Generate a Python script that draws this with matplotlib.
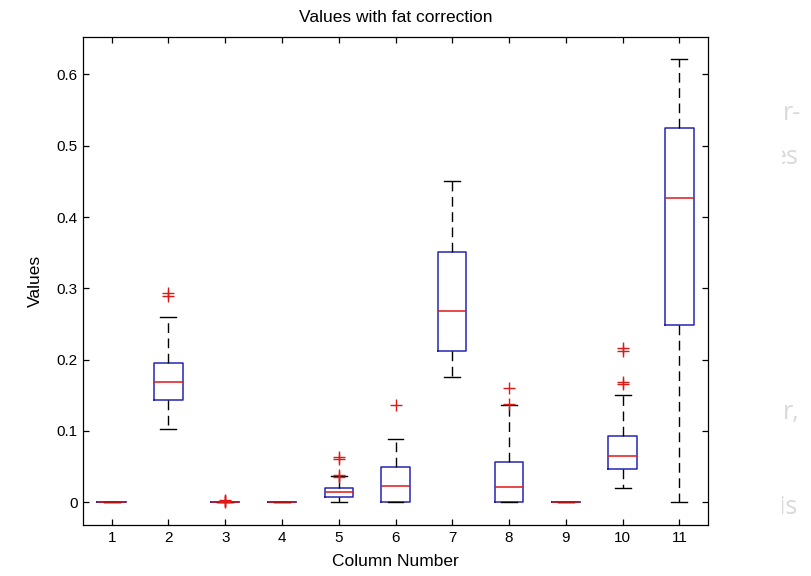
import matplotlib
matplotlib.use("Agg")
import matplotlib.pyplot as plt
from matplotlib.patches import Rectangle

plt.rcParams['font.family'] = ['Liberation Sans', 'DejaVu Sans']

# box plot statistics, one entry per column
columns = [1, 2, 3, 4, 5, 6, 7, 8, 9, 10, 11]
medians = [0, 0.169, 0, 0, 0.0145, 0.0224, 0.268, 0.0215, 0, 0.0645, 0.427]
q1 = [0, 0.143, 0, 0, 0.0075, 0, 0.212, 0, 0, 0.0459, 0.248]
q3 = [0, 0.195, 0, 0, 0.020, 0.0495, 0.351, 0.0566, 0, 0.0926, 0.525]
whislo = [0, 0.102, 0, 0, 0, 0, 0.175, 0, 0, 0.020, 0]
whishi = [0, 0.260, 0, 0, 0.037, 0.088, 0.450, 0.137, 0, 0.151, 0.6215]
fliers = [[], [0.289, 0.294], [0.0005, 0.001, 0.0015, 0.0025], [],
          [0.036, 0.038, 0.060, 0.063], [0.137], [], [0.138, 0.160], [],
          [0.166, 0.169, 0.212, 0.216], []]
yticks = [0, 0.1, 0.2, 0.3, 0.4, 0.5, 0.6]
ytick_labels = ['0', '0.1', '0.2', '0.3', '0.4', '0.5', '0.6']

stats = []
for i in range(len(columns)):
    stats.append({'med': medians[i], 'q1': q1[i], 'q3': q3[i],
                  'whislo': whislo[i], 'whishi': whishi[i],
                  'fliers': fliers[i]})

fig = plt.figure(figsize=(8.11, 5.76), dpi=100)
ax = fig.add_axes([0.1027, 0.0885, 0.77, 0.8467])

blue = '#2424b4'
red = '#e01818'
ax.bxp(stats, positions=columns, widths=0.5, capwidths=0.28,
       boxprops=dict(color=blue, linewidth=1.1),
       medianprops=dict(color=red, linewidth=1.1),
       whiskerprops=dict(color='black', linewidth=1.0, linestyle=(0, (7, 4))),
       capprops=dict(color='black', linewidth=1.0),
       flierprops=dict(marker='+', markeredgecolor=red, markersize=9,
                       markeredgewidth=1.0, linestyle='none'))

ax.set_xlim(0.5, 11.5)
ax.set_ylim(-0.032, 0.652)
ax.set_xticks(columns)
ax.set_xticklabels([str(c) for c in columns])
ax.set_yticks(yticks)
ax.set_yticklabels(ytick_labels)
ax.tick_params(direction='in', length=4.3, width=0.9, labelsize=11,
               top=True, right=True, pad=4)
for s in ax.spines.values():
    s.set_linewidth(0.9)

ax.set_title('Values with fat correction', fontsize=12.5, pad=11)
ax.set_xlabel('Column Number', fontsize=12.5, labelpad=7)
ax.set_ylabel('Values', fontsize=12.5, labelpad=10)

# faint page text showing through at the right edge
for txt, x, y in [('r-', 783, 113), ('es', 773, 158), ('r,', 783, 413), ('is', 779, 508)]:
    fig.text(x / 811, 1 - y / 576, txt, fontsize=18, color='#d9d9d9',
             family=['Open Sans', 'DejaVu Sans'], va='center', ha='left', zorder=1)
fig.patches.append(Rectangle((712 / 811, 0), 70 / 811, 1, transform=fig.transFigure,
                             facecolor='white', edgecolor='none', zorder=2))

fig.savefig('out.png', dpi=100)
